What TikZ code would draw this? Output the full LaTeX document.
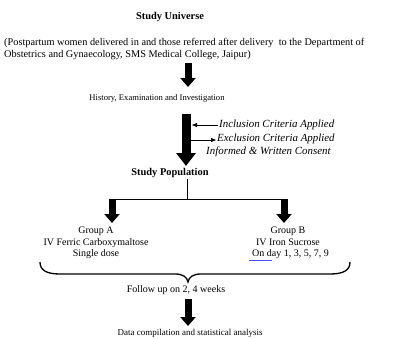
\documentclass[tikz,border=0pt]{standalone}
\usepackage{fontspec}
\setmainfont{Liberation Serif}
\usetikzlibrary{arrows.meta}
\begin{document}
\begin{tikzpicture}[x=1pt,y=-1pt,
  txt/.style={inner sep=0pt,font=\fontsize{10}{11.6}\selectfont},
  bold/.style={txt,font=\fontsize{10.4}{12}\selectfont\bfseries},
  ital/.style={txt,font=\fontsize{10.9}{12}\selectfont\itshape},
  blk/.style={line width=7pt,-{Triangle[width=15pt,length=9pt]}},
  bigblk/.style={line width=9pt,-{Triangle[width=19pt,length=13pt]}},
  thin/.style={line width=0.7pt,-{Triangle[width=4pt,length=5pt]}},
  brace/.style={line width=1.3pt}]
\useasboundingbox (0,0) rectangle (397,338);
% texts
\node[bold] (univ) at (170,17) {Study Universe};
\node[txt,anchor=west,font=\fontsize{10.3}{12}\selectfont] (para1) at (4,43) {(Postpartum women delivered in and those referred after delivery\ \ to the Department of};
\node[txt,anchor=west,font=\fontsize{10.3}{12}\selectfont] (para2) at (4,55) {Obstetrics and Gynaecology, SMS Medical College, Jaipur)};
\node[txt,font=\fontsize{8.6}{10}\selectfont] (hist) at (157,98) {History, Examination and Investigation};
\node[ital,anchor=west] (incl) at (219,125) {Inclusion Criteria Applied};
\node[ital,anchor=west] (excl) at (217,139) {Exclusion Criteria Applied};
\node[ital,anchor=west] (cons) at (206,152) {Informed \& Written Consent};
\node[bold] (pop) at (170,173) {Study Population};
\node[txt,align=center] (ga) at (96,243) {Group A\\IV Ferric Carboxymaltose\\Single dose};
\node[txt,align=center] (gb) at (288,243) {Group B\\IV Iron Sucrose\\\ \ On day 1, 3, 5, 7, 9};
\node[txt] (fu) at (176,290) {Follow up on 2, 4 weeks};
\node[txt,font=\fontsize{9}{10}\selectfont] (data) at (190,333) {Data compilation and statistical analysis};
% coordinates
\coordinate (a1s) at (188,63);
\coordinate (a1e) at (188,87);
\coordinate (a2s) at (186,114);
\coordinate (a2e) at (186,166);
\coordinate (inclA) at (218,125);
\coordinate (inclB) at (192,125);
\coordinate (exclA) at (191,140);
\coordinate (exclB) at (216,140);
\coordinate (popb) at (187,179);
\coordinate (jn) at (187,199);
\coordinate (la) at (112,199);
\coordinate (lae) at (112,223);
\coordinate (ra) at (284,199);
\coordinate (rae) at (284,223);
\coordinate (bl) at (40,262);
\coordinate (br) at (350,262);
\coordinate (bt) at (188,282);
\coordinate (a3s) at (188,299);
\coordinate (a3e) at (188,326);
% arrows
\draw[blk] (a1s) -- (a1e);
\draw[bigblk] (a2s) -- (a2e);
\draw[thin] (inclA) -- (inclB);
\draw[thin] (exclA) -- (exclB);
\draw[line width=0.7pt] (popb) -- (jn);
\draw[line width=0.7pt] (la) -- (ra);
\draw[blk] ([yshift=-0.35pt]la) -- (lae);
\draw[blk] ([yshift=-0.35pt]ra) -- (rae);
\draw[brace] (bl) .. controls (40,270) and (46,274) .. (60,274)
  -- (175,274) .. controls (183,274) and (187,277) .. (bt)
  .. controls (189,277) and (193,274) .. (201,274)
  -- (330,274) .. controls (344,274) and (350,270) .. (br);
\draw[blk] (a3s) -- (a3e);
\draw[blue!70,line width=0.4pt] (249,260) -- (272,260);
\end{tikzpicture}
\end{document}
